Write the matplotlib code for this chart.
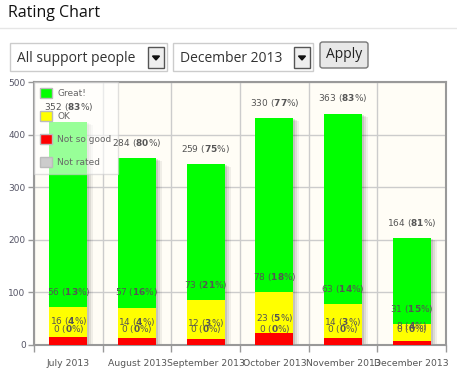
import numpy as np
import matplotlib.pyplot as plt
from matplotlib.patches import Rectangle, FancyBboxPatch, Polygon, Patch
import matplotlib.transforms as mtransforms

plt.rcParams['mathtext.fontset'] = 'custom'
plt.rcParams['mathtext.rm'] = 'DejaVu Sans'
plt.rcParams['mathtext.bf'] = 'DejaVu Sans:bold'

months = ['July 2013', 'August 2013', 'September 2013', 'October 2013',
          'November 2013', 'December 2013']
great = [352, 284, 259, 330, 363, 164]
great_pct = [83, 80, 75, 77, 83, 81]
ok = [56, 57, 73, 78, 63, 31]
ok_pct = [13, 16, 21, 18, 14, 15]
notgood = [16, 14, 12, 23, 14, 8]
notgood_pct = [4, 4, 3, 5, 3, 4]
notrated = [0, 0, 0, 0, 0, 0]
notrated_pct = [0, 0, 0, 0, 0, 0]

series_names = ['Great!', 'OK', 'Not so good', 'Not rated']
colors = ['#00ff00', '#ffff00', '#ff0000', '#cccccc']

W, H = 457, 378
fig = plt.figure(figsize=(W / 100, H / 100), dpi=100)
fig.patch.set_facecolor('white')

def fx(px): return px / W
def fy(py): return 1 - py / H

# header
fig.text(fx(8), fy(13), 'Rating Chart', fontsize=11.5, family='Open Sans',
         color='#111111', va='center', ha='left')
fig.add_artist(plt.Line2D([0, 1], [fy(28), fy(28)], color='#e6e6e6', lw=1))

# dropdowns
def dropdown(x0, x1, label):
    fig.add_artist(Rectangle((fx(x0), fy(71)), fx(x1 - x0), fy(43) - fy(71),
                             facecolor='white', edgecolor='#cccccc', lw=1))
    fig.text(fx(x0 + 7), fy(58), label, fontsize=10, family='Open Sans',
             color='#333333', va='center', ha='left')
    ax0 = x1 - 19
    fig.add_artist(Rectangle((fx(ax0), fy(68)), fx(16), fy(47) - fy(68),
                             facecolor='#eeeeee', edgecolor='#555555', lw=1))
    cx = ax0 + 8
    fig.add_artist(Polygon([(fx(cx - 3.5), fy(56)), (fx(cx + 3.5), fy(56)),
                            (fx(cx), fy(60))], closed=True, color='#111111'))

dropdown(10, 167, 'All support people')
dropdown(173, 313, 'December 2013')
fig.add_artist(FancyBboxPatch((fx(320), fy(68)), fx(48), fy(42) - fy(68),
                              boxstyle='round,pad=0,rounding_size=0.006',
                              facecolor='#e8e8e8', edgecolor='#777777', lw=1))
fig.text(fx(344), fy(55), 'Apply', fontsize=10, family='Open Sans',
         color='#222222', va='center', ha='center')

# chart
ax = fig.add_axes([fx(34), fy(345), fx(446 - 34), fy(82) - fy(345)])
ax.set_facecolor('#fffdf6')
x = np.arange(len(months))
great_a = np.array(great)
ok_a = np.array(ok)
ng_a = np.array(notgood)
total = ng_a + ok_a + great_a
w = 0.55

for i in range(len(x)):
    for k, a in enumerate([0.10, 0.08, 0.06]):
        t = mtransforms.offset_copy(ax.transData, fig=fig, x=2 + 2 * k, y=-1 - k, units='dots')
        ax.bar(x[i], total[i], w, color='black', alpha=a, transform=t, zorder=1)

ax.bar(x, ng_a, w, color=colors[2], zorder=3)
ax.bar(x, ok_a, w, bottom=ng_a, color=colors[1], zorder=3)
ax.bar(x, great_a, w, bottom=ng_a + ok_a, color=colors[0], zorder=3)

def lab(v, p):
    return r'%d ($\mathbf{%d}$%%)' % (v, p)

kw = dict(ha='center', va='center', fontsize=6.5, color='#555555',
          textcoords='offset points', zorder=8)
for i in range(len(x)):
    ax.annotate(lab(great[i], great_pct[i]), (x[i], total[i]), xytext=(0, 11), **kw)
    ax.annotate(lab(ok[i], ok_pct[i]), (x[i], ng_a[i] + ok_a[i]), xytext=(0, 11), **kw)
    ax.annotate(lab(notgood[i], notgood_pct[i]), (x[i], ng_a[i]), xytext=(0, 11), **kw)
    ax.annotate(lab(notrated[i], notrated_pct[i]), (x[i], notrated[i]), xytext=(0, 11.5), **kw)

ax.set_xlim(-0.5, len(x) - 0.5)
ax.set_ylim(0, 500)
ax.set_yticks([0, 100, 200, 300, 400, 500])
ax.set_xticks(x)
ax.set_xticklabels(months)
ax.set_xticks(np.arange(len(x) + 1) - 0.5, minor=True)
ax.grid(True, which='major', axis='y', color='#cccccc', lw=1, zorder=0)
ax.grid(True, which='minor', axis='x', color='#cccccc', lw=1, zorder=0)
ax.set_axisbelow(True)
ax.tick_params(axis='y', labelsize=6.5, labelcolor='#555566', color='#999999',
               length=4, width=1, pad=2)
ax.tick_params(axis='x', which='major', length=0, labelsize=6.7,
               labelcolor='#555555', pad=10)
ax.tick_params(axis='x', which='minor', length=5, color='#999999', width=1)
for s in ax.spines.values():
    s.set_color('#999999')
    s.set_linewidth(1.5)

handles = [Patch(facecolor=c, edgecolor='#bbbbbb', lw=1) for c in colors]
leg = ax.legend(handles, series_names, loc='upper left', borderaxespad=0,
                fontsize=6.5, labelcolor='#666666', handlelength=1.3,
                handleheight=1.3, labelspacing=1.45, borderpad=0.7,
                handletextpad=0.6, fancybox=False, framealpha=0.6,
                edgecolor='#cccccc')
leg.set_zorder(6)

fig.savefig('out.png', dpi=100)
